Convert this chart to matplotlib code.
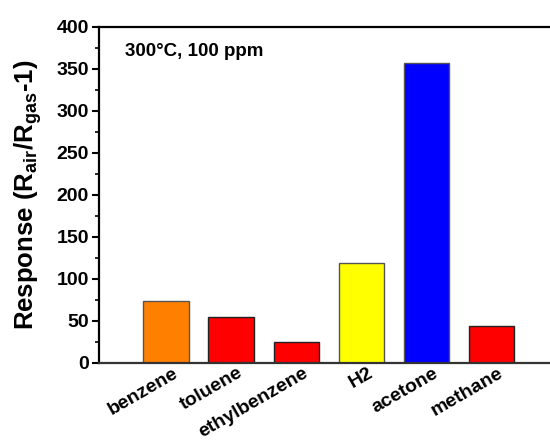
import numpy as np
import matplotlib.pyplot as plt
import matplotlib.transforms as mtransforms

# gas names and responses
gases = ["benzene", "toluene", "ethylbenzene", "H2", "acetone", "methane"]
response = [73.5, 54.5, 24.3, 119, 357, 43]
colors = ["#FF8000", "#FF0000", "#FF0000", "#FFFF00", "#0000FF", "#FF0000"]
edges = ["#555555", "#222222", "#222222", "#555555", "#555555", "#222222"]

plt.rcParams['font.family'] = ['Liberation Sans', 'DejaVu Sans']
plt.rcParams['font.weight'] = 'bold'
plt.rcParams['mathtext.fontset'] = 'custom'
plt.rcParams['mathtext.bf'] = 'Liberation Sans:bold'
plt.rcParams['mathtext.rm'] = 'Liberation Sans:bold'
plt.rcParams['mathtext.default'] = 'bf'

fig = plt.figure(figsize=(5.5, 4.43), dpi=100)
ax = fig.add_axes([98.5 / 550, 80.5 / 443, 458 / 550, 336 / 443])

x = np.arange(1, len(gases) + 1)
ax.bar(x, response, width=0.7, color=colors, edgecolor=edges, linewidth=1.0)

ax.set_xlim(-0.04, 7)
ax.set_ylim(0, 400)
ax.set_yticks(range(0, 401, 50))
ax.set_yticks(range(0, 401, 25), minor=True)
ax.set_xticks(x)
ax.set_xticklabels(gases, rotation=30, ha="right", rotation_mode="anchor", fontsize=14, fontweight="bold")
ax.tick_params(axis="x", length=0, pad=1.5)
ax.tick_params(axis="y", which="major", direction="out", length=5, width=1.5, labelsize=14, pad=2)
ax.tick_params(axis="y", which="minor", direction="out", length=3, width=1.2)
for lab in ax.get_yticklabels():
    lab.set_fontweight("bold")

# shift x labels a little to the right like the original
shift = mtransforms.ScaledTranslation(4.5 / 72, 0, fig.dpi_scale_trans)
for lab in ax.get_xticklabels():
    lab.set_transform(lab.get_transform() + shift)

for s in ["left", "top", "bottom"]:
    ax.spines[s].set_linewidth(1.6)
ax.spines["bottom"].set_color("#333333")
ax.spines["right"].set_visible(False)

ax.set_ylabel(r'Response (R$_{air}$/R$_{gas}$-1)', fontsize=18.5, fontweight="bold")
ax.yaxis.set_label_coords(-0.119, 0.5)

ax.text(0.057, 0.925, u"300\u00b0C, 100 ppm", transform=ax.transAxes, fontsize=13.5,
        fontweight="bold", va="center")

fig.savefig("out.png", dpi=100)
